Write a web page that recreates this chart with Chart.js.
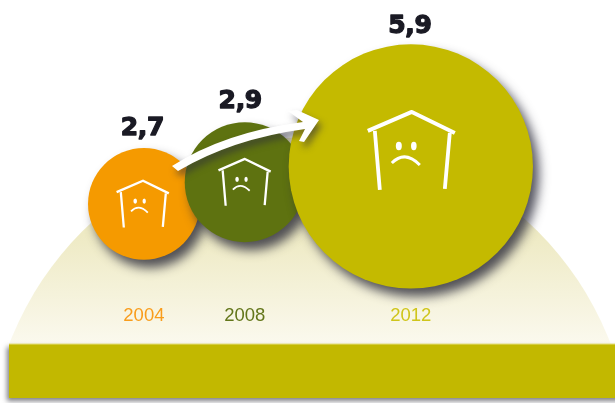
<!DOCTYPE html>
<html>
<head>
<meta charset="utf-8">
<script src="https://cdn.jsdelivr.net/npm/chart.js@4"></script>
<style>
  html, body { margin: 0; padding: 0; background: #fff; }
  #wrap { width: 615px; height: 403px; }
</style>
</head>
<body>
<div id="wrap"><canvas id="chart"></canvas></div>
<script>
const years = ["2004", "2008", "2012"];
const valores = [2.7, 2.9, 5.9];
const etiquetas = ["2,7", "2,9", "5,9"];
// posicion de cada burbuja, en % del ancho y alto del grafico
const posX = [23.4, 39.8, 66.8];
const posY = [49.4, 54.8, 58.7];
const colores = ["#f59a00", "#5e7210", "#c4ba00"];
const coloresYear = ["#f99d1c", "#63761a", "#cfc51a"];

const RADIO_POR_UNIDAD = 20.7;

// la burbuja no debe encoger el area del grafico
Chart.registry.getController("bubble").prototype.getMaxOverflow = () => 0;

function casita(ctx, cx, cy, k) {
    ctx.save();
    ctx.translate(cx, cy);
    ctx.scale(k, k);
    ctx.strokeStyle = "#fff";
    ctx.fillStyle = "#fff";
    ctx.lineWidth = 4;
    ctx.beginPath();
    ctx.moveTo(-43, -23);
    ctx.lineTo(1, -42);
    ctx.lineTo(44, -21);
    ctx.stroke();
    ctx.lineWidth = 3.8;
    ctx.beginPath();
    ctx.moveTo(-36, -23);
    ctx.lineTo(-31, 36);
    ctx.moveTo(39, -21);
    ctx.lineTo(34, 35);
    ctx.stroke();
    ctx.beginPath();
    ctx.ellipse(-12, -8, 3, 4.2, 0, 0, Math.PI * 2);
    ctx.ellipse(3, -8, 2.8, 4.2, 0, 0, Math.PI * 2);
    ctx.fill();
    ctx.lineWidth = 3;
    ctx.beginPath();
    ctx.moveTo(-19, 9);
    ctx.quadraticCurveTo(-6, -4, 9, 11);
    ctx.stroke();
    ctx.restore();
}

const decoracion = {
    id: "decoracion",
    beforeDatasetsDraw(chart) {
        const ctx = chart.ctx;
        ctx.save();
        // semicirculo de fondo
        const g = ctx.createLinearGradient(0, 235, 0, 344);
        g.addColorStop(0, "#eeeac4");
        g.addColorStop(1, "#fbf9ee");
        ctx.beginPath();
        ctx.rect(0, 0, 615, 344);
        ctx.clip();
        ctx.fillStyle = g;
        ctx.beginPath();
        ctx.arc(310, 459, 322, 0, Math.PI * 2);
        ctx.fill();
        ctx.restore();

        // banda inferior
        ctx.save();
        ctx.shadowColor = "rgba(40,40,50,0.6)";
        ctx.shadowBlur = 5;
        ctx.shadowOffsetX = -2;
        ctx.shadowOffsetY = 3;
        ctx.fillStyle = "#c2b800";
        ctx.fillRect(9, 344, 620, 54);
        ctx.restore();
        ctx.fillStyle = "#e6df80";
        ctx.fillRect(9, 343.5, 606, 1);

        // sombra de las burbujas
        ctx.save();
        ctx.shadowColor = "rgba(40,40,55,0.8)";
        ctx.shadowBlur = 11;
        ctx.shadowOffsetX = 6;
        ctx.shadowOffsetY = 8;
    },
    afterDatasetsDraw(chart) {
        const ctx = chart.ctx;
        ctx.restore();
        const { x, y } = chart.scales;
        const dxCasa = [-1.5, -0.5, 0];
        const dyCasa = [2, 2, -12.5];
        const escala = [0.6, 0.6, 1];
        const dxNum = [-1.5, -4.5, -1];
        const dyNum = [-13, -14, -11.5];

        posX.forEach((v, i) => {
            const px = x.getPixelForValue(v);
            const py = y.getPixelForValue(posY[i]);
            casita(ctx, px + dxCasa[i], py + dyCasa[i], escala[i]);

            ctx.fillStyle = coloresYear[i];
            ctx.font = "18.5px 'Liberation Sans'";
            ctx.textAlign = "center";
            ctx.textBaseline = "alphabetic";
            ctx.letterSpacing = "0px";
            ctx.fillText(years[i], px, 321);

            ctx.fillStyle = "#1a1a24";
            ctx.strokeStyle = "#1a1a24";
            ctx.lineWidth = 1.3;
            ctx.lineJoin = "round";
            ctx.font = "bold 25px 'DejaVu Sans'";
            ctx.letterSpacing = "-0.3px";
            const by = py - valores[i] * RADIO_POR_UNIDAD + dyNum[i];
            ctx.fillText(etiquetas[i], px + dxNum[i], by);
            ctx.strokeText(etiquetas[i], px + dxNum[i], by);
        });

        // flecha
        ctx.save();
        ctx.shadowColor = "rgba(45,45,60,0.6)";
        ctx.shadowBlur = 7;
        ctx.shadowOffsetX = 3;
        ctx.shadowOffsetY = 5;
        ctx.fillStyle = "#fff";
        ctx.beginPath();
        ctx.moveTo(172, 166);
        ctx.quadraticCurveTo(225, 132, 303, 122);
        ctx.lineTo(288, 111);
        ctx.lineTo(297, 110);
        ctx.lineTo(319, 120);
        ctx.lineTo(304, 142);
        ctx.lineTo(299, 141);
        ctx.lineTo(305, 129);
        ctx.quadraticCurveTo(232, 139, 178, 171);
        ctx.closePath();
        ctx.fill();
        ctx.restore();
    }
};

new Chart(document.getElementById("chart"), {
    type: "bubble",
    data: {
        datasets: [{
            data: years.map((y, i) => ({ x: posX[i], y: posY[i], r: valores[i] * RADIO_POR_UNIDAD })),
            backgroundColor: colores,
            borderWidth: 0,
            hoverBorderWidth: 0,
            clip: false
        }]
    },
    options: {
        responsive: true,
        maintainAspectRatio: false,
        animation: false,
        events: [],
        layout: { padding: 0 },
        plugins: { legend: { display: false }, tooltip: { enabled: false } },
        scales: {
            x: { display: false, min: 0, max: 100 },
            y: { display: false, min: 0, max: 100 }
        }
    },
    plugins: [decoracion]
});
</script>
</body>
</html>
